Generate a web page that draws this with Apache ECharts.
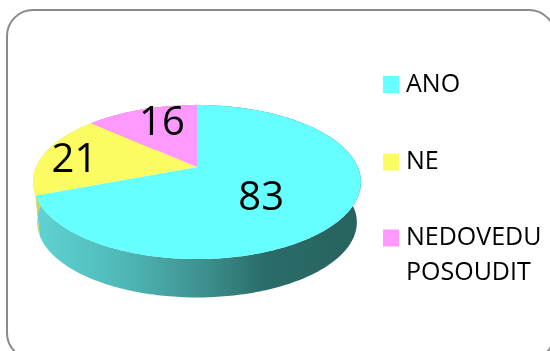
<!DOCTYPE html>
<html>
<head>
<meta charset="utf-8">
<script src="https://cdn.jsdelivr.net/npm/echarts@6/dist/echarts.min.js"></script>
<style>
  html, body { margin: 0; padding: 0; background: #ffffff; }
  #chart { width: 550px; height: 351px; }
</style>
</head>
<body>
<div id="chart"></div>
<script>
// Survey answers
const categories = ['ANO', 'NE', 'NEDOVEDU POSOUDIT'];
const values = [83, 21, 16];
// the leading blank line keeps the square level with the first text line
const legendLabels = ['ANO', 'NE', '\nNEDOVEDU\nPOSOUDIT'];

// Colours of the slice tops and of their rims
const topColors = ['#66ffff', '#fcfc62', '#ff99ff'];
const rimStops = [
  [[0, '#5fd4d4'], [0.27, '#50b9b8'], [0.51, '#3e9290'], [0.71, '#2a6c69'], [1, '#27625e']],
  [[0, '#d6d65a'], [0.3, '#b9b94d'], [1, '#6a6a2c']],
  [[0, '#d690d6'], [0.5, '#a060a0'], [1, '#6a406a']]
];

const FONT = '"Open Sans", "Noto Sans", sans-serif';

// Tilted disc seen in perspective: k is the foreshortening toward the back
const view = { cx: 197, cy: 167, a: 160.8, b: 74.1, k: 0.195, depth: 40.7, shrink: 0.975 };
// label placement inside each slice: radius fraction and angle nudge (deg)
const labelPlace = [{ r: 0.52, nudge: 10 }, { r: 0.79, nudge: -1.5 }, { r: 0.75, nudge: 4.7 }];
const labelDy = 2.5;

function project(theta, r, level) {
  const x = r * Math.sin(theta), y = r * Math.cos(theta);
  const s = level ? view.shrink : 1;
  const w = 1 + view.k * y;
  return [view.cx + view.a * s * x / w, view.cy + level * view.depth - view.b * s * y / w];
}

const total = values.reduce((p, v) => p + v, 0);
const starts = values.map((v, i) => values.slice(0, i).reduce((p, q) => p + q, 0));

function makeRender(i) {
  return function (params, api) {
    const v = api.value(0);
    const t0 = starts[i] / total * Math.PI * 2;
    const t1 = (starts[i] + v) / total * Math.PI * 2;
    const n = Math.max(12, Math.ceil((t1 - t0) / (Math.PI / 180)));
    const topArc = [], botArc = [];
    for (let j = 0; j <= n; j++) {
      const t = t0 + (t1 - t0) * j / n;
      topArc.push(project(t, 1, 0));
      botArc.push(project(t, 1, 1));
    }
    const wall = topArc.concat(botArc.slice().reverse());
    const face = [project(0, 0, 0)].concat(topArc);
    const mid = (t0 + t1) / 2 + labelPlace[i].nudge * Math.PI / 180;
    const lp = project(mid, labelPlace[i].r, 0);
    return {
      type: 'group',
      children: [
        {
          type: 'polygon', z2: 1,
          shape: { points: wall },
          style: { fill: new echarts.graphic.LinearGradient(33, 0, 361, 0,
            rimStops[i].map(s => ({ offset: s[0], color: s[1] })), true) }
        },
        {
          type: 'polygon', z2: 10,
          shape: { points: face },
          style: { fill: topColors[i] }
        },
        {
          type: 'text', z2: 20,
          style: {
            text: String(v), x: lp[0], y: lp[1] + labelDy,
            align: 'center', verticalAlign: 'middle',
            fill: '#000000', font: '40px ' + FONT
          }
        }
      ]
    };
  };
}

const legendTops = [67, 144.5, 185.5];

const chart = echarts.init(document.getElementById('chart'), null, { renderer: 'canvas' });
chart.setOption({
  backgroundColor: '#ffffff',
  animation: false,
  color: topColors,
  graphic: [{
    type: 'rect', z: -1, silent: true,
    shape: { x: 7, y: 10, width: 548, height: 349, r: 26 },
    style: { fill: 'none', stroke: '#8a8a8a', lineWidth: 2 }
  }],
  legend: categories.map((name, i) => ({
    data: [name],
    orient: 'vertical',
    left: 383,
    top: legendTops[i],
    padding: 0,
    icon: 'rect',
    itemWidth: 16,
    itemHeight: 17,
    selectedMode: false,
    formatter: () => legendLabels[i],
    textStyle: { fontFamily: FONT, fontSize: 25, color: '#000000', lineHeight: 35, padding: [0, 0, 0, 2] }
  })),
  series: categories.map((name, i) => ({
    type: 'custom',
    name: name,
    coordinateSystem: 'none',
    itemStyle: { color: topColors[i] },
    renderItem: makeRender(i),
    data: [[values[i]]]
  }))
});
</script>
</body>
</html>
